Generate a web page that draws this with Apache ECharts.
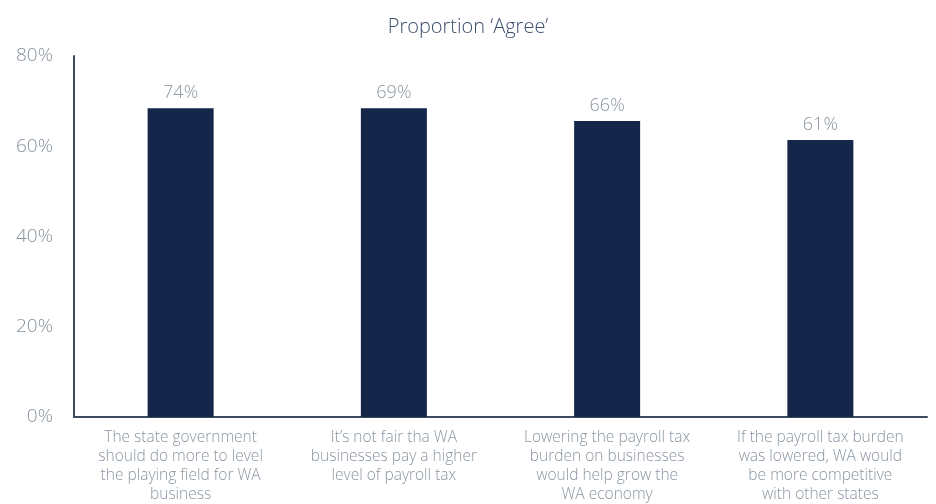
<!DOCTYPE html>
<html><head><meta charset="utf-8">
<script src="https://cdn.jsdelivr.net/npm/echarts@6/dist/echarts.min.js"></script>
<style>html,body{margin:0;padding:0;background:#fff}#c{width:936px;height:504px}</style>
</head><body><div id="c"></div>
<script>
const categories = [
  "The state government\nshould do more to level\nthe playing field for WA\nbusiness",
  "It\u2019s not fair tha WA\nbusinesses pay a higher\nlevel of payroll tax",
  "Lowering the payroll tax\nburden on businesses\nwould help grow the\nWA economy",
  "If the payroll tax burden\nwas lowered, WA would\nbe more competitive\nwith other states"
];
const barValues = [68.4, 68.4, 65.6, 61.4];
const barLabels = ["74%", "69%", "66%", "61%"];
const yTicks = [0, 20, 40, 60, 80];
const titleText = "Proportion \u2018Agree\u2019";

const chart = echarts.init(document.getElementById('c'));
chart.setOption({
  animation: false,
  title: {
    text: titleText, left: 'center', top: 12,
    textStyle: { fontFamily: 'Open Sans', fontSize: 20, fontWeight: 300, color: '#3d4f6b' }
  },
  grid: { left: 74, right: 9, top: 56, bottom: 82 },
  xAxis: {
    type: 'category', data: categories,
    axisLine: { lineStyle: { color: '#3c4c5e', width: 2 } },
    axisTick: { show: false },
    axisLabel: { interval: 0, margin: 11, fontFamily: 'Open Sans', fontSize: 15.5, fontWeight: 300, lineHeight: 19, color: '#8a96a3' }
  },
  yAxis: {
    type: 'value', min: yTicks[0], max: yTicks[yTicks.length - 1], interval: 20,
    axisLine: { show: true, lineStyle: { color: '#3c4c5e', width: 2 } },
    axisTick: { show: false },
    splitLine: { show: false },
    axisLabel: { margin: 21, fontFamily: 'Open Sans', fontSize: 19, fontWeight: 300, color: '#86929f', formatter: '{value}%' }
  },
  series: [{
    type: 'bar', data: barValues, barWidth: 66,
    itemStyle: { color: '#14264a' },
    label: {
      show: true, position: 'top', distance: 6,
      fontFamily: 'Open Sans', fontSize: 18, fontWeight: 300, color: '#8a96a3',
      formatter: p => barLabels[p.dataIndex]
    }
  }]
});
</script></body></html>
